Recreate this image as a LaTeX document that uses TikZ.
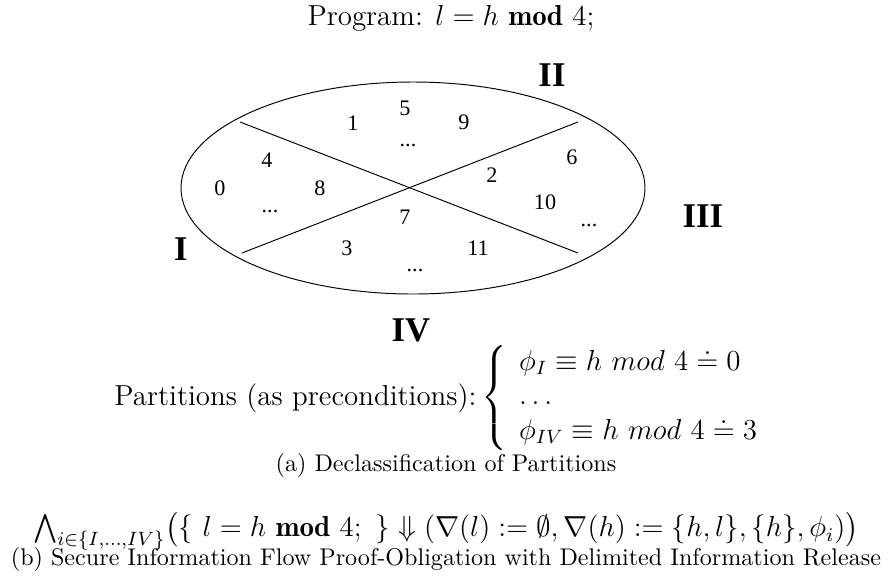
\documentclass[tikz,border=0pt]{standalone}
\usepackage{amsmath,amssymb}
\usepackage{fontspec}
\newfontfamily\tnr{Liberation Serif}
\begin{document}
\begin{tikzpicture}[x=0.4149pt,y=-0.4149pt,
  num/.style={font=\tnr\fontsize{9.2}{11}\selectfont, inner sep=0},
  roman/.style={font=\tnr\bfseries\fontsize{14.4}{17}\selectfont, inner sep=0},
  maintext/.style={font=\fontsize{12}{14.4}\selectfont, inner sep=0},
  captext/.style={font=\fontsize{10}{12}\selectfont, inner sep=0},
  thinline/.style={line width=0.4pt}]
\useasboundingbox (0,0) rectangle (892,581);
% title
\node[maintext, anchor=base] (prog) at (451,25) {Program: $l = h\ \mathbf{mod}\ 4;$};
% ellipse and crossing lines
\coordinate (ec) at (413,188);
\draw[thinline] (ec) ellipse [x radius=96.26pt, y radius=43.98pt];
\coordinate (la) at (240,122);
\coordinate (lb) at (578,253);
\coordinate (lc) at (242,253);
\coordinate (ld) at (578,122);
\draw[thinline] (la) -- (lb);
\draw[thinline] (lc) -- (ld);
% numbers
\node[num] (n5) at (405,108) {5};
\node[num] (n1) at (353,123) {1};
\node[num] (n9) at (464,122) {9};
\node[num] (dtop) at (408,145) {...};
\node[num] (n4) at (267,160) {4};
\node[num] (n0) at (220,188) {0};
\node[num] (n8) at (320,188) {8};
\node[num] (dleft) at (270,211) {...};
\node[num] (n6) at (572,157) {6};
\node[num] (n2) at (492,175) {2};
\node[num] (n10) at (545,202) {10};
\node[num] (dright) at (589,225) {...};
\node[num] (n7) at (405,217) {7};
\node[num] (n3) at (347,248) {3};
\node[num] (n11) at (478,248) {11};
\node[num] (dbot) at (415,270) {...};
% roman numerals
\node[roman] (rI) at (181,249) {I};
\node[roman] (rII) at (552,75) {II};
\node[roman] (rIII) at (703,216) {III};
\node[roman] (rIV) at (411,330) {IV};
% partitions
\node[maintext, anchor=west] (part) at (114,398) {Partitions (as preconditions):$\,\left\{\begin{array}{l} \phi_I \equiv h\ mod\ 4 \doteq 0\\ \ldots\\ \phi_{IV} \equiv h\ mod\ 4 \doteq 3\end{array}\right.$};
\node[captext] (capa) at (446,465) {(a) Declassification of Partitions};
\node[maintext] (form) at (446,531) {$\bigwedge_{i\in\{I,\ldots,IV\}}\bigl(\{~l = h\ \mathbf{mod}\ 4;~\}\Downarrow(\nabla(l) := \emptyset, \nabla(h) := \{h,l\}, \{h\}, \phi_i)\bigr)$};
\node[captext] (capb) at (446,559) {(b) Secure Information Flow Proof-Obligation with Delimited Information Release};
\end{tikzpicture}
\end{document}
